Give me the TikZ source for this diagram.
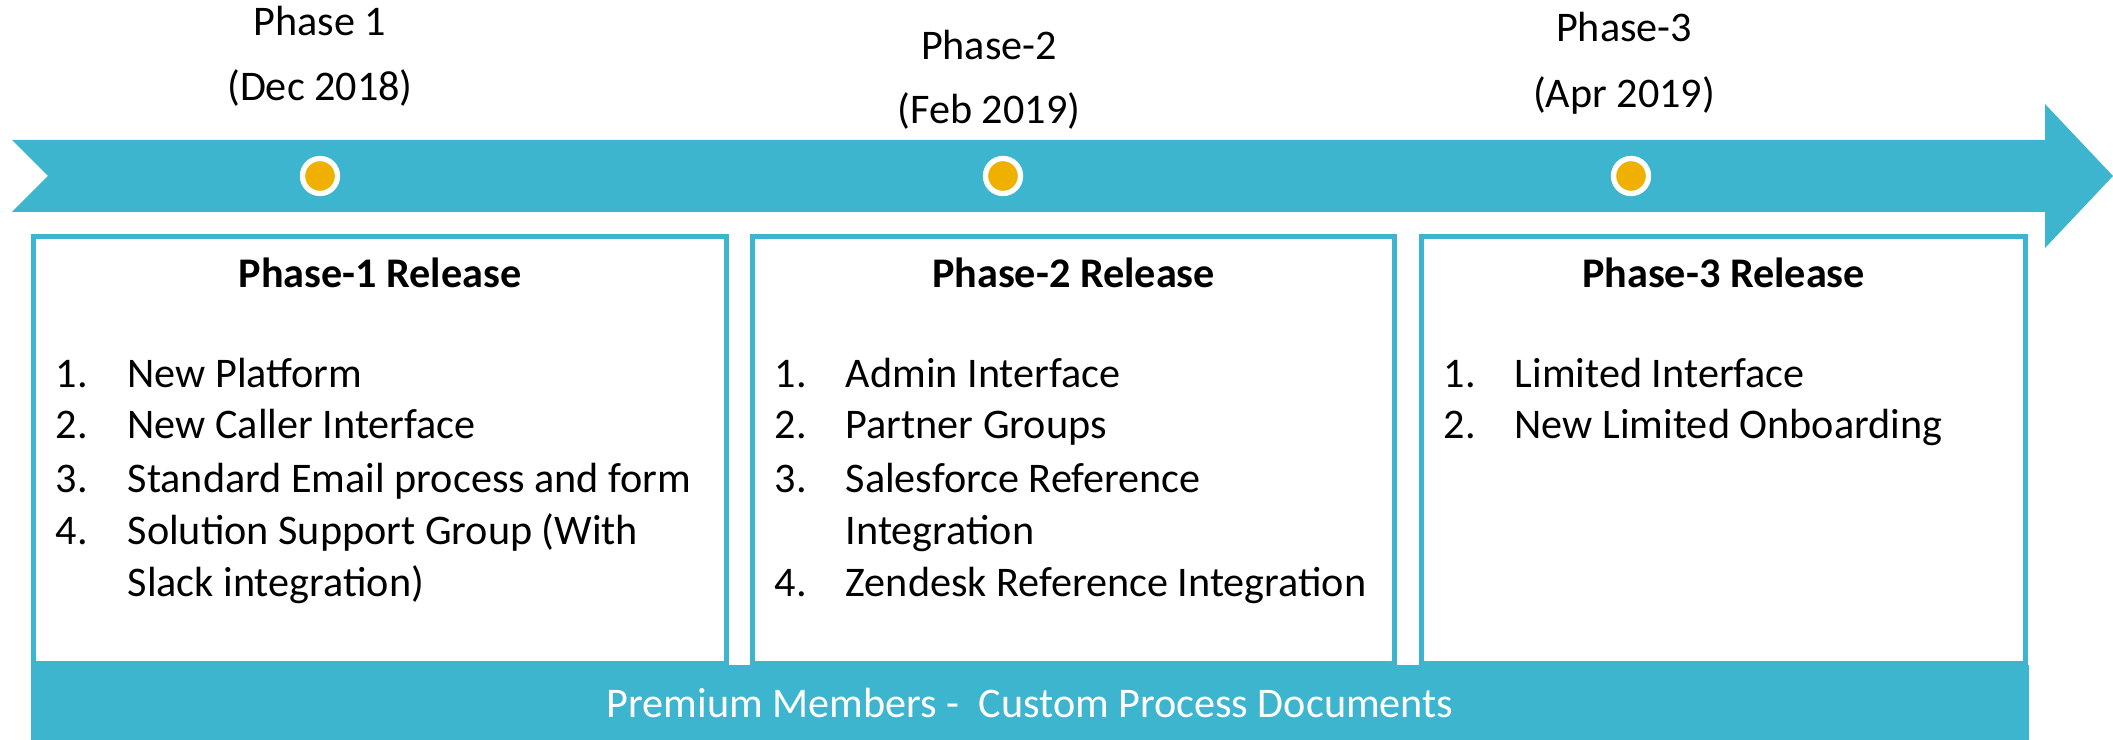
\documentclass[tikz,border=0pt]{standalone}
\usepackage{fontspec}
\setmainfont{Carlito}
\usetikzlibrary{positioning}
\definecolor{band}{HTML}{3DB5CF}
\definecolor{dot}{HTML}{EFB000}

\begin{document}
\begin{tikzpicture}[x=0.01cm, y=-0.01cm,
    txt/.style={inner sep=0pt, font=\fontsize{12}{14.8}\selectfont},
    phase/.style={txt, anchor=base},
    head/.style={txt, anchor=base, font=\fontsize{12}{14.8}\selectfont\bfseries},
    num/.style={txt, anchor=base west},
    entry/.style={txt, anchor=base west},
    stop/.style={circle, fill=dot, draw=white, line width=0.053cm, minimum size=0.35cm, inner sep=0pt},
    release/.style={draw=band, line width=0.045cm, minimum height=4.265cm, inner sep=0pt}]
  \useasboundingbox (0,0) rectangle (2113,740);

  \fill[band] (12,140) -- (2045,140) -- (2045,104) -- (2113,176) -- (2045,248)
    -- (2045,212) -- (12,212) -- (48,176) -- cycle;
  \node[stop] (s1) at (320,176) {};
  \node[stop] (s2) at (1003,176) {};
  \node[stop] (s3) at (1631,176) {};

  \node[phase] (p1) at (320,36) {Phase 1};
  \node[phase, below=0.64cm of p1.base, anchor=base] (d1) {(Dec 2018)};
  \node[phase] (p2) at (989,60) {Phase-2};
  \node[phase, below=0.63cm of p2.base, anchor=base] (d2) {(Feb 2019)};
  \node[phase] (p3) at (1624,42) {Phase-3};
  \node[phase, below=0.65cm of p3.base, anchor=base] (d3) {(Apr 2019)};

  \node[release, minimum width=6.93cm] (b1) at (380,449.75) {};
  \node[release, minimum width=6.42cm] (b2) at (1073.5,449.75) {};
  \node[release, minimum width=6.04cm] (b3) at (1723.5,449.75) {};
  \node[head, below=0.53cm of b1.north, anchor=base] (h1) {Phase-1 Release};
  \node[head, below=0.53cm of b2.north, anchor=base] (h2) {Phase-2 Release};
  \node[head, below=0.53cm of b3.north, anchor=base] (h3) {Phase-3 Release};

  \node[num] (n11) at (55,387) {1.};
  \node[num] (n12) at (55,439) {2.};
  \node[num] (n13) at (55,492) {3.};
  \node[num] (n14) at (55,544) {4.};
  \node[entry] (e11) at (127,387) {New Platform};
  \node[entry] (e12) at (127,439) {New Caller Interface};
  \node[entry] (e13) at (127,492) {Standard Email process and form};
  \node[entry] (e14) at (127,544) {Solution Support Group (With};
  \node[entry] (e15) at (127,596) {Slack integration)};

  \node[num] (n21) at (774,387) {1.};
  \node[num] (n22) at (774,439) {2.};
  \node[num] (n23) at (774,492) {3.};
  \node[num] (n24) at (774,596) {4.};
  \node[entry] (e21) at (845,387) {Admin Interface};
  \node[entry] (e22) at (845,439) {Partner Groups};
  \node[entry] (e23) at (845,492) {Salesforce Reference};
  \node[entry] (e24) at (845,544) {Integration};
  \node[entry] (e25) at (845,596) {Zendesk Reference Integration};

  \node[num] (n31) at (1443,387) {1.};
  \node[num] (n32) at (1443,439) {2.};
  \node[entry] (e31) at (1514,387) {Limited Interface};
  \node[entry] (e32) at (1514,439) {New Limited Onboarding};

  \node[txt, fill=band, text=white, minimum width=19.96cm, minimum height=0.75cm]
    (bar) at (1030,702.5) {Premium Members -\ \ Custom Process Documents};
\end{tikzpicture}
\end{document}
